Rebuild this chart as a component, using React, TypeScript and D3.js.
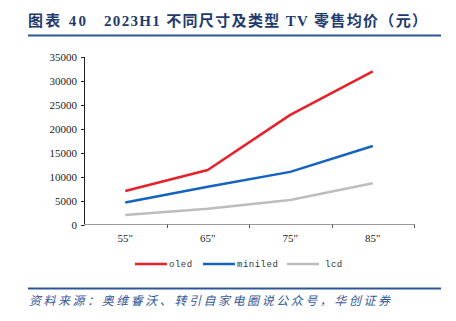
import React from "react";
import * as d3 from "d3";

const categories = ['55"', '65"', '75"', '85"'];
const oled = [7000, 11400, 22900, 32000];
const miniled = [4600, 7900, 11000, 16400];
const lcd = [2000, 3300, 5100, 8600];
const yTicks = [0, 5000, 10000, 15000, 20000, 25000, 30000, 35000];
const seriesNames = ["oled", "miniled", "lcd"];
const seriesColors = ["#E8202A", "#1463C0", "#BDBDBD"];

const serif = "'Liberation Serif', 'Times New Roman', serif";
const titleFont = "'Liberation Serif', 'Noto Sans CJK SC', serif";

export default function App() {
  const W = 456, H = 321;
  const x = d3.scaleBand<string>().domain(categories).range([84, 414]);
  const y = d3.scaleLinear().domain([0, 35000]).range([224.5, 57]);
  const line = d3.line<number>()
    .x((_, i) => (x(categories[i]) as number) + x.bandwidth() / 2)
    .y((d) => y(d));
  const series = [oled, miniled, lcd];
  const legendX = [135, 203, 287];
  return (
    <svg width={W} height={H} style={{ position: "absolute", left: 0, top: 0 }}>
      <rect width={W} height={H} fill="#fff" />
      <g style={{ fontFamily: titleFont, fontWeight: "bold", fontSize: 15 }} fill="#1F3A6E">
        <text x={28} y={26} textLength={58} lengthAdjust="spacing">图表 40</text>
        <text x={104} y={26} textLength={323} lengthAdjust="spacing">2023H1 不同尺寸及类型 TV 零售均价（元）</text>
      </g>
      <line x1={28} x2={441} y1={35.5} y2={35.5} stroke="#2B5597" strokeWidth={2} />
      {/* y axis */}
      <line x1={84.5} x2={84.5} y1={57} y2={225} stroke="#222" strokeWidth={1} />
      {yTicks.map((t) => (
        <g key={t}>
          <line x1={81} x2={84.5} y1={Math.round(y(t)) + 0.5} y2={Math.round(y(t)) + 0.5} stroke="#222" />
          <text x={77} y={y(t) + 4} textAnchor="end" style={{ fontFamily: serif, fontSize: 11 }} fill="#222">{t}</text>
        </g>
      ))}
      {/* x axis */}
      <line x1={84} x2={414.5} y1={224.5} y2={224.5} stroke="#999" strokeWidth={1} />
      {categories.map((c, i) => (
        <g key={c}>
          <line x1={Math.round((x(c) as number) + x.bandwidth()) + 0.5} x2={Math.round((x(c) as number) + x.bandwidth()) + 0.5} y1={224.5} y2={228} stroke="#555" />
          <text x={(x(c) as number) + x.bandwidth() / 2} y={242} textAnchor="middle" style={{ fontFamily: serif, fontSize: 11 }} fill="#222">{c}</text>
        </g>
      ))}
      {series.map((s, i) => (
        <path key={i} d={line(s) as string} fill="none" stroke={seriesColors[i]} strokeWidth={2.5} strokeLinejoin="round" />
      ))}
      {seriesNames.map((n, i) => (
        <g key={n}>
          <line x1={legendX[i]} x2={legendX[i] + 32} y1={264} y2={264} stroke={seriesColors[i]} strokeWidth={2.5} />
          <text x={legendX[i] + 34 + (i === 2 ? 4 : 0)} y={267} style={{ fontFamily: "'Liberation Mono', monospace", fontSize: 9 }} fill="#333" letterSpacing={0.5}>{n}</text>
        </g>
      ))}
      <line x1={28} x2={441} y1={288.5} y2={288.5} stroke="#2B5597" strokeWidth={2} />
      <text x={29} y={305} style={{ fontFamily: "'Noto Sans CJK SC'", fontStyle: "italic", fontSize: 12 }} fill="#34589A" textLength={361} lengthAdjust="spacing">
        资料来源：奥维睿沃、转引自家电圈说公众号，华创证券
      </text>
    </svg>
  );
}
